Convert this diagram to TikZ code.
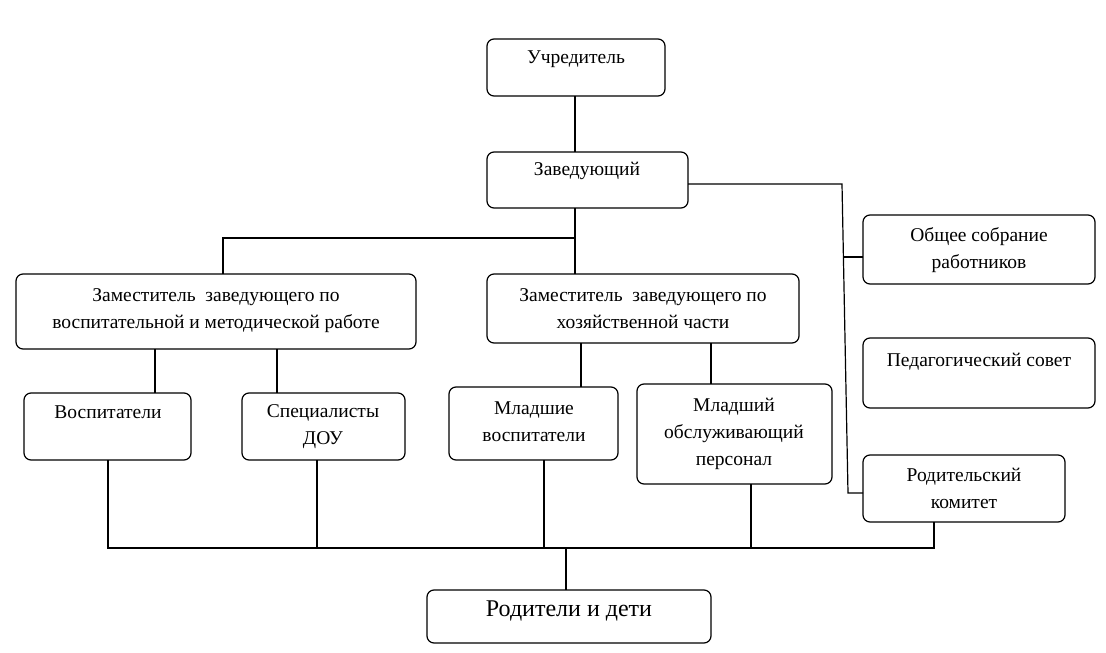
\documentclass[tikz,border=0pt]{standalone}
\usepackage{fontspec}
\setmainfont{Liberation Serif}
\begin{document}
\begin{tikzpicture}[x=1pt,y=-1pt,
  bx/.style={draw,rounded corners=7pt,line width=1.2pt},
  tx/.style={font=\fontsize{19.5}{27}\selectfont,align=center},
  ln/.style={line width=1.2pt}]
\useasboundingbox (0,0) rectangle (1106,653);
\draw[bx] (487,39) rectangle (665,96);
\node[tx] (u) at (576,59) {Учредитель};
\draw[bx] (487,152) rectangle (688,208);
\node[tx] (z) at (587,171) {Заведующий};
\draw[bx] (863,215) rectangle (1095,284);
\node[tx] (os) at (979,250) {Общее собрание\\работников};
\draw[bx] (863,338) rectangle (1095,408);
\node[tx] (ps) at (979,362) {Педагогический совет};
\draw[bx] (863,455) rectangle (1065,522);
\node[tx] (rk) at (964,488) {Родительский\\комитет};
\draw[bx] (16,274) rectangle (416,349);
\node[tx] (zv) at (216,311) {Заместитель\ \ заведующего по\\воспитательной и методической работе};
\draw[bx] (487,274) rectangle (799,343);
\node[tx] (zh) at (643,309) {Заместитель\ \ заведующего по\\хозяйственной части};
\draw[bx] (24,393) rectangle (191,460);
\node[tx] (v) at (108,412) {Воспитатели};
\draw[bx] (242,393) rectangle (405,460);
\node[tx] (s) at (323,427) {Специалисты\\ДОУ};
\draw[bx] (449,387) rectangle (618,460);
\node[tx] (mv) at (534,422) {Младшие\\воспитатели};
\draw[bx] (637,384) rectangle (832,484);
\node[tx] (mo) at (734,434) {Младший\\обслуживающий\\персонал};
\draw[bx] (427,590) rectangle (711,643);
\node[font=\fontsize{24}{28}\selectfont] (rd) at (569,611) {Родители и дети};
\begin{scope}[ln]
\draw (575,96) -- (575,152);
\draw (575,208) -- (575,274);
\draw (575,238) -- (223,238) -- (223,274);
\draw (688,184) -- (842,184) -- (848,493) -- (863,493);
\draw (844,257) -- (863,257);
\draw (155,349) -- (155,393);
\draw (277,349) -- (277,393);
\draw (581,343) -- (581,387);
\draw (711,343) -- (711,384);
\draw (108,460) -- (108,548) -- (934,548) -- (934,522);
\draw (317,460) -- (317,548);
\draw (544,460) -- (544,548);
\draw (751,484) -- (751,548);
\draw (566,548) -- (566,590);
\end{scope}
\end{tikzpicture}
\end{document}
